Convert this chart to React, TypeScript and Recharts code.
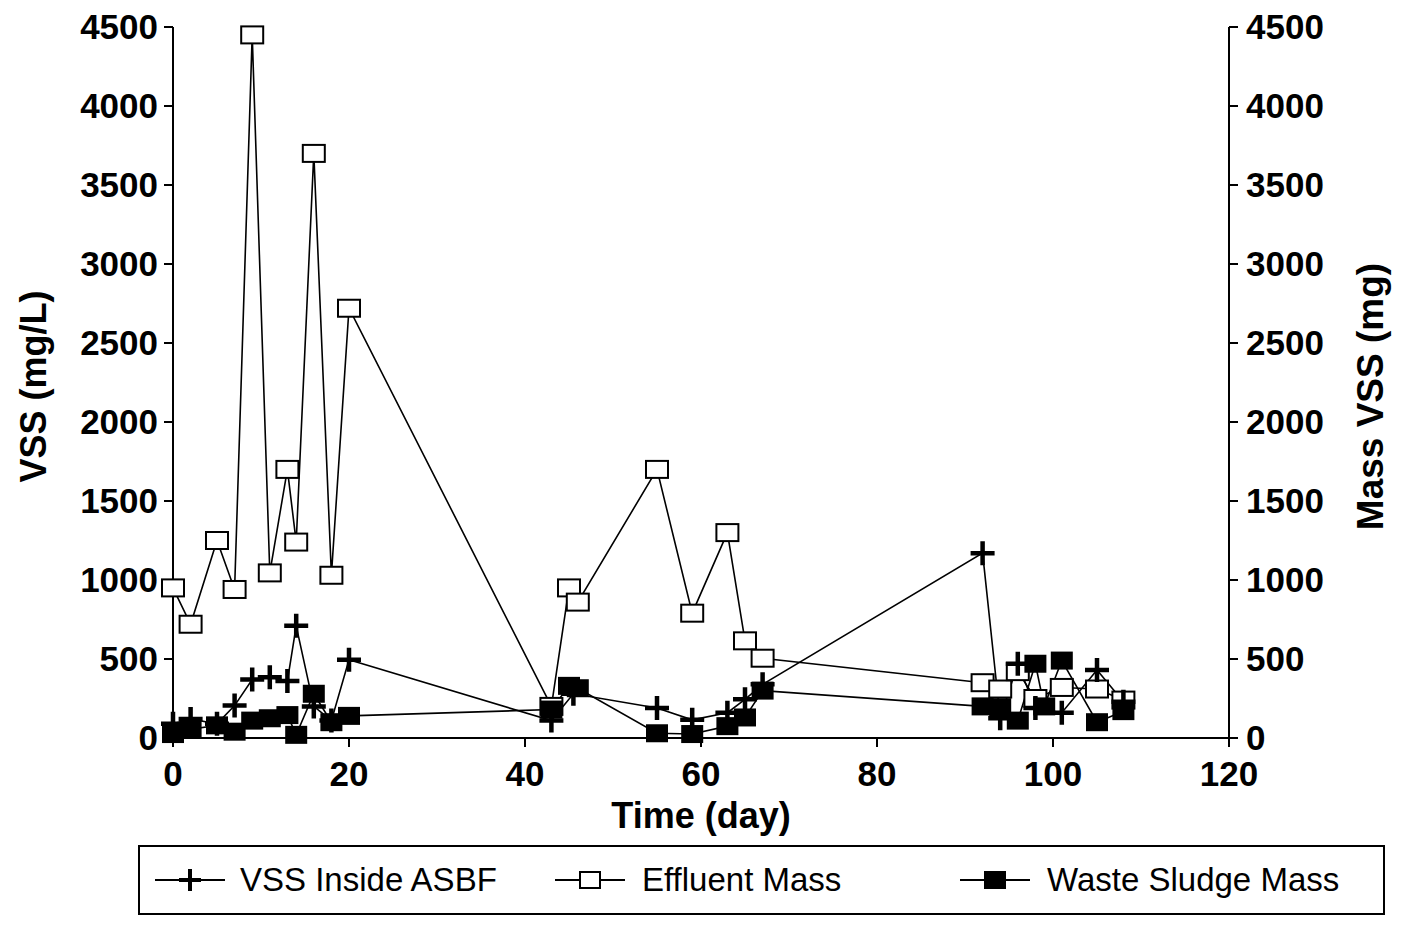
import { LineChart, Line, XAxis, YAxis, Legend } from "recharts";

const vssDays = [0, 2, 5, 7, 9, 11, 13, 14, 16, 18, 20, 43, 45.5, 55, 59, 63, 65, 67, 92, 94, 96, 98, 101, 105, 108];
const vssValues = [90, 120, 90, 205, 370, 385, 360, 710, 200, 110, 495, 110, 280, 190, 115, 160, 245, 340, 1170, 125, 470, 190, 160, 430, 230];

const effluentDays = [0, 2, 5, 7, 9, 11, 13, 14, 16, 18, 20, 43, 45, 46, 55, 59, 63, 65, 67, 92, 94, 96, 98, 101, 105, 108];
const effluentValues = [950, 720, 1250, 940, 4450, 1045, 1700, 1240, 3700, 1030, 2720, 200, 950, 860, 1700, 790, 1300, 615, 505, 350, 310, 420, 250, 320, 310, 240];

const wasteDays = [0, 2, 5, 7, 9, 11, 13, 14, 16, 18, 20, 43, 45, 46, 55, 59, 63, 65, 67, 92, 94, 96, 98, 99, 101, 105, 108];
const wasteValues = [25, 55, 80, 40, 110, 125, 145, 20, 280, 100, 140, 180, 330, 315, 30, 25, 75, 130, 300, 200, 195, 110, 470, 200, 490, 100, 170];

const xTicks = [0, 20, 40, 60, 80, 100, 120];
const yTicks = [0, 500, 1000, 1500, 2000, 2500, 3000, 3500, 4000, 4500];

const seriesNames = ["VSS Inside ASBF", "Effluent Mass", "Waste Sludge Mass"];

const vssData = vssDays.map((d, i) => ({ day: d, v: vssValues[i] }));
const effluentData = effluentDays.map((d, i) => ({ day: d, v: effluentValues[i] }));
const wasteData = wasteDays.map((d, i) => ({ day: d, v: wasteValues[i] }));

const FONT = "'Liberation Sans', Arial, Helvetica, sans-serif";
const tickStyle = { fill: "#000", fontSize: 35, fontWeight: 700, fontFamily: FONT };

function PlusDot(props: any) {
  const { cx, cy, index } = props;
  if (cx == null || cy == null) return <g key={index} />;
  return (
    <path
      key={"p" + index}
      d={`M${cx - 12},${cy} H${cx + 12} M${cx},${cy - 12} V${cy + 12}`}
      stroke="#000"
      strokeWidth={4.5}
      fill="none"
    />
  );
}

function OpenSquare(props: any) {
  const { cx, cy, index } = props;
  if (cx == null || cy == null) return <g key={index} />;
  return <rect key={"o" + index} x={cx - 11} y={cy - 8.5} width={22} height={17} fill="#fff" stroke="#000" strokeWidth={2} />;
}

function FilledSquare(props: any) {
  const { cx, cy, index } = props;
  if (cx == null || cy == null) return <g key={index} />;
  return <rect key={"f" + index} x={cx - 11} y={cy - 9} width={22} height={18} fill="#000" />;
}

function LegendBox() {
  const item = (left: number, textLeft: number, icon: any, label: string) => (
    <div style={{ position: "absolute", left, top: 0, height: 66, display: "flex", alignItems: "center" }}>
      <svg width={72} height={30} style={{ display: "block" }}>
        <line x1={0} y1={15} x2={70} y2={15} stroke="#000" strokeWidth={2} />
        {icon}
      </svg>
      <span style={{ marginLeft: textLeft, fontSize: 33, fontFamily: FONT, color: "#000" }}>{label}</span>
    </div>
  );
  return (
    <div style={{ width: 1243, height: 66, border: "2px solid #000", position: "relative", background: "#fff" }}>
      {item(15, 13, <path d="M24,15 H46 M35,4 V26" stroke="#000" strokeWidth={4} />, seriesNames[0])}
      {item(415, 15, <rect x={25} y={7} width={20} height={16} fill="#fff" stroke="#000" strokeWidth={2} />, seriesNames[1])}
      {item(820, 15, <rect x={24} y={6} width={22} height={18} fill="#000" />, seriesNames[2])}
    </div>
  );
}

export default function App() {
  return (
    <div style={{ position: "absolute", left: 0, top: 0, background: "#fff" }}>
      <LineChart width={1403} height={925} margin={{ top: 27, right: 74, bottom: 107, left: 73 }}>
        <XAxis
          xAxisId="top"
          orientation="top"
          type="number"
          domain={[0, 120]}
          ticks={xTicks}
          tick={false}
          tickLine={false}
          height={0}
          axisLine={{ stroke: "#000", strokeWidth: 2 }}
        />
        <XAxis
          dataKey="day"
          type="number"
          domain={[0, 120]}
          ticks={xTicks}
          height={80}
          tick={tickStyle}
          tickSize={9}
          tickMargin={14}
          axisLine={{ stroke: "#000", strokeWidth: 2 }}
          tickLine={{ stroke: "#000", strokeWidth: 2 }}
          allowDuplicatedCategory={false}
          label={(p: any) => (
            <text
              x={p.viewBox.x + p.viewBox.width / 2}
              y={p.viewBox.y + 90}
              textAnchor="middle"
              style={{ fontSize: 36, fontWeight: 700, fontFamily: FONT, fill: "#000" }}
            >
              Time (day)
            </text>
          )}
        />
        <YAxis
          yAxisId="left"
          domain={[0, 4500]}
          ticks={yTicks}
          width={100}
          tick={tickStyle}
          tickSize={9}
          tickMargin={6}
          axisLine={{ stroke: "#000", strokeWidth: 2 }}
          tickLine={{ stroke: "#000", strokeWidth: 2 }}
          label={(p: any) => {
            const x = p.viewBox.x - 40;
            const y = p.viewBox.y + p.viewBox.height / 2 + 4;
            return (
              <text
                x={x}
                y={y}
                transform={`rotate(-90 ${x} ${y})`}
                textAnchor="middle"
                dominantBaseline="central"
                style={{ fontSize: 36, fontWeight: 700, fontFamily: FONT, fill: "#000" }}
              >
                VSS (mg/L)
              </text>
            );
          }}
        />
        <YAxis
          yAxisId="right"
          orientation="right"
          domain={[0, 4500]}
          ticks={yTicks}
          width={100}
          tick={tickStyle}
          tickSize={9}
          tickMargin={8}
          axisLine={{ stroke: "#000", strokeWidth: 2 }}
          tickLine={{ stroke: "#000", strokeWidth: 2 }}
          label={(p: any) => {
            const x = p.viewBox.x + 141;
            const y = p.viewBox.y + p.viewBox.height / 2 + 14;
            return (
              <text
                x={x}
                y={y}
                transform={`rotate(-90 ${x} ${y})`}
                textAnchor="middle"
                dominantBaseline="central"
                style={{ fontSize: 37, fontWeight: 700, fontFamily: FONT, fill: "#000" }}
              >
                Mass VSS (mg)
              </text>
            );
          }}
        />
        <Legend
          layout="vertical"
          align="center"
          verticalAlign="middle"
          wrapperStyle={{ position: "absolute", left: 138, top: 845, width: 1247, height: 70 }}
          content={() => <LegendBox />}
        />
        <Line
          data={effluentData}
          dataKey="v"
          yAxisId="right"
          name={seriesNames[1]}
          stroke="#000"
          strokeWidth={1.6}
          dot={OpenSquare}
          activeDot={false}
          isAnimationActive={false}
        />
        <Line
          data={vssData}
          dataKey="v"
          yAxisId="left"
          name={seriesNames[0]}
          stroke="#000"
          strokeWidth={1.6}
          dot={PlusDot}
          activeDot={false}
          isAnimationActive={false}
        />
        <Line
          data={wasteData}
          dataKey="v"
          yAxisId="right"
          name={seriesNames[2]}
          stroke="#000"
          strokeWidth={1.6}
          dot={FilledSquare}
          activeDot={false}
          isAnimationActive={false}
        />
      </LineChart>
    </div>
  );
}
